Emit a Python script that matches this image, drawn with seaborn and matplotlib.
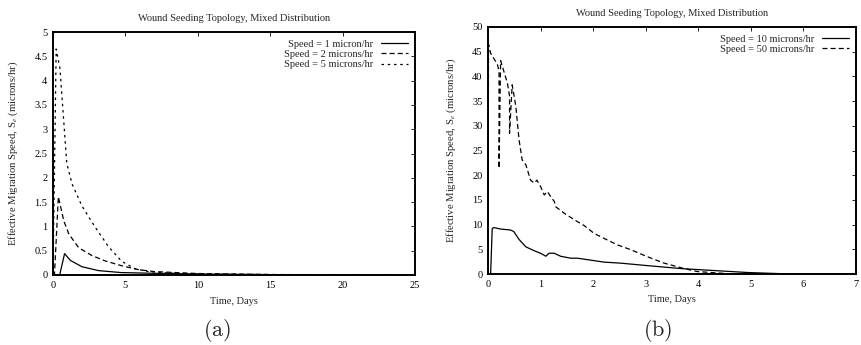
import matplotlib
matplotlib.use("Agg")
import matplotlib.pyplot as plt
import seaborn as sns

# panel (a): low speeds, 0-25 days
t_s1 = [0, 0.46, 0.8, 1.2, 2.0, 3.15, 4.7, 7.0, 10.0, 15.0, 20.0, 25.0]
v_s1 = [0, 0, 0.44, 0.30, 0.17, 0.09, 0.05, 0.035, 0.02, 0.008, 0.003, 0.0]

t_s2 = [0, 0.1, 0.37, 0.75, 1.1, 1.78, 2.69, 3.6, 4.75, 5.9, 7.0, 10.0, 15.0, 20.0, 25.0]
v_s2 = [0, 0, 1.61, 1.11, 0.84, 0.56, 0.40, 0.29, 0.19, 0.11, 0.07, 0.03, 0.01, 0.004, 0.0]

t_s5 = [0, 0.22, 0.48, 0.95, 1.32, 2.0, 2.92, 3.84, 4.75, 5.66, 6.6, 8.0, 10.0, 15.0, 20.0, 25.0]
v_s5 = [0, 4.65, 4.25, 2.3, 1.87, 1.42, 0.98, 0.58, 0.28, 0.13, 0.07, 0.04, 0.02, 0.008, 0.003, 0.0]

# panel (b): high speeds, 0-7 days
t_s10 = [0, 0.05, 0.08, 0.11, 0.24, 0.43, 0.49, 0.59, 0.72, 0.88, 1.0, 1.1, 1.16, 1.26,
         1.38, 1.57, 1.7, 2.02, 2.21, 2.52, 3.03, 3.67, 4.3, 4.94, 5.57, 6.0, 7.0]
v_s10 = [0, 0, 9.2, 9.4, 9.1, 8.9, 8.6, 7.0, 5.5, 4.7, 4.2, 3.6, 4.2, 4.2,
         3.6, 3.2, 3.2, 2.7, 2.4, 2.2, 1.7, 1.1, 0.7, 0.3, 0.07, 0.0, 0.0]

t_s50 = [0, 0.01, 0.05, 0.18, 0.21, 0.21, 0.24, 0.37, 0.41, 0.41, 0.46, 0.53, 0.59, 0.65,
         0.72, 0.81, 0.88, 0.93, 1.0, 1.07, 1.13, 1.19, 1.26, 1.29, 1.45, 1.7, 1.83,
         2.02, 2.21, 2.46, 2.72, 3.03, 3.35, 3.73, 3.98, 4.24, 4.6, 5.0, 7.0]
v_s50 = [0, 46.5, 44.7, 42.4, 41.0, 21.4, 43.2, 38.6, 36.0, 28.5, 38.3, 33.9, 27.2, 23.1,
         22.1, 19.0, 18.4, 19.0, 17.7, 16.0, 16.7, 15.7, 14.7, 13.6, 12.3, 10.6, 9.8,
         8.2, 7.2, 5.9, 4.9, 3.5, 2.2, 1.1, 0.5, 0.3, 0.05, 0.0, 0.0]

title = "Wound Seeding Topology, Mixed Distribution"
ylab = "Effective Migration Speed, S$_e$ (microns/hr)"

sns.set_style("white")
plt.rcParams["font.family"] = ["Liberation Serif", "DejaVu Serif"]
plt.rcParams["mathtext.fontset"] = "stix"
plt.rcParams["font.size"] = 7.5

fig = plt.figure(figsize=(8.62, 3.45), dpi=100)
ax1 = fig.add_axes([53 / 862, 70 / 345, 362 / 862, 243 / 345])
ax2 = fig.add_axes([488 / 862, 71 / 345, 368 / 862, 247 / 345])

kw = dict(color="black", linewidth=0.9, estimator=None, sort=False)
sns.lineplot(x=t_s1, y=v_s1, ax=ax1, label="Speed = 1 micron/hr", **kw)
sns.lineplot(x=t_s2, y=v_s2, ax=ax1, label="Speed = 2 microns/hr", dashes=False, **kw)
sns.lineplot(x=t_s5, y=v_s5, ax=ax1, label="Speed = 5 microns/hr", dashes=False, **kw)
ax1.lines[1].set_dashes((4, 2.5))
ax1.lines[2].set_dashes((2, 3))

sns.lineplot(x=t_s10, y=v_s10, ax=ax2, label="Speed = 10 microns/hr", **kw)
sns.lineplot(x=t_s50, y=v_s50, ax=ax2, label="Speed = 50 microns/hr", dashes=False, **kw)
ax2.lines[1].set_dashes((4, 2.5))

for ax, xmax, ymax, ystep, xt in [
    (ax1, 25, 5, 0.5, range(0, 26, 5)),
    (ax2, 7, 50, 5, range(0, 8)),
]:
    ax.set_xlim(0, xmax)
    ax.set_ylim(0, ymax)
    ax.set_xticks(list(xt))
    yticks = [round(i * ystep, 2) for i in range(int(round(ymax / ystep)) + 1)]
    ax.set_yticks(yticks)
    ax.set_yticklabels([f"{v:g}" for v in yticks])
    ax.tick_params(direction="in", top=True, right=True, length=3, width=0.6,
                   labelsize=7.5, pad=4, colors="black")
    for s in ax.spines.values():
        s.set_linewidth(1.4)
        s.set_color("black")
    ax.set_xlabel("Time, Days", fontsize=7.5, labelpad=5)
    ax.set_ylabel(ylab, fontsize=7.7, labelpad=10)
    ax.set_title(title, fontsize=7.5, pad=8)
    ax.legend(loc="upper right", frameon=False, markerfirst=False, fontsize=7.5,
              handlelength=2.6, handletextpad=0.7, labelspacing=0.1,
              borderaxespad=0.3)

fig.text(217 / 862, 1 - 330 / 345, r"$(\mathrm{a})$", math_fontfamily="cm",
         fontsize=16, ha="center", va="center")
fig.text(658 / 862, 1 - 330 / 345, r"$(\mathrm{b})$", math_fontfamily="cm",
         fontsize=16, ha="center", va="center")

fig.savefig("out.png", dpi=100)
